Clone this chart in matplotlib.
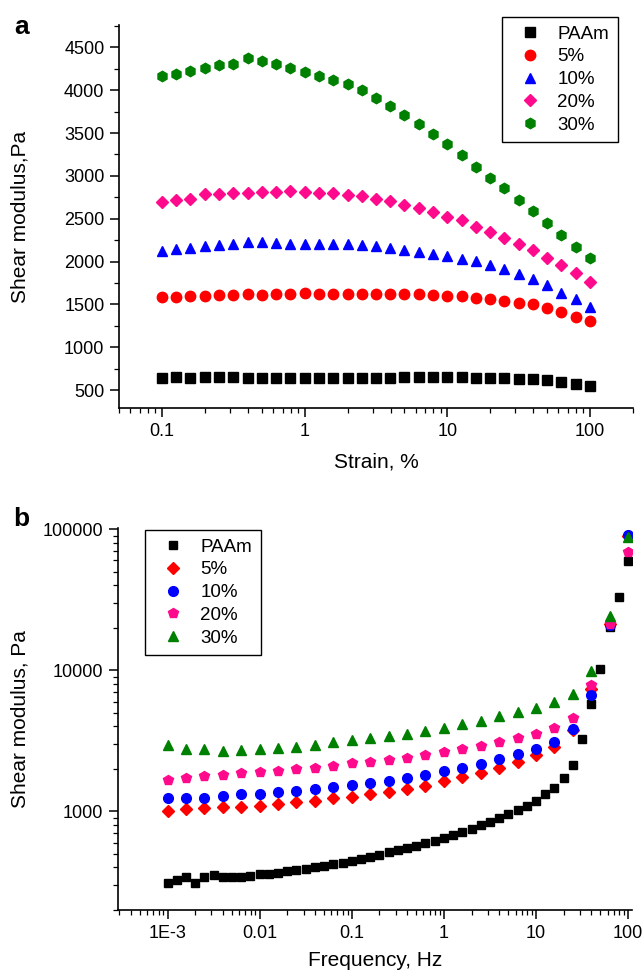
import matplotlib
matplotlib.use("Agg")
import matplotlib.pyplot as plt
from matplotlib.ticker import LogLocator, MultipleLocator, FixedLocator, FixedFormatter, NullFormatter

plt.rcParams['font.family'] = ['Liberation Sans', 'DejaVu Sans']

# (a) strain sweep
strain = [0.1, 0.126, 0.158, 0.2, 0.251, 0.316, 0.398, 0.501, 0.631, 0.794,
          1, 1.26, 1.58, 2, 2.51, 3.16, 3.98, 5.01, 6.31, 7.94,
          10, 12.6, 15.8, 20, 25.1, 31.6, 39.8, 50.1, 63.1, 79.4, 100]
a_paam = [640, 652, 640, 652, 652, 652, 640, 640, 640, 640,
          640, 640, 640, 640, 640, 640, 640, 652, 652, 652,
          652, 652, 640, 640, 640, 628, 628, 617, 593, 574, 547]
a_5 = [1583, 1583, 1598, 1598, 1606, 1606, 1618, 1606, 1618, 1621,
       1629, 1618, 1618, 1618, 1618, 1618, 1618, 1618, 1618, 1606,
       1598, 1598, 1579, 1567, 1544, 1512, 1501, 1462, 1411, 1357, 1310]
a_10 = [2124, 2143, 2163, 2186, 2194, 2206, 2233, 2233, 2221, 2209,
        2209, 2202, 2202, 2202, 2194, 2182, 2159, 2132, 2112, 2085,
        2061, 2034, 2003, 1960, 1914, 1851, 1793, 1727, 1637, 1559, 1474]
a_20 = [2692, 2720, 2731, 2794, 2794, 2805, 2805, 2813, 2813, 2821,
        2809, 2801, 2797, 2782, 2762, 2731, 2708, 2665, 2630, 2579,
        2525, 2482, 2408, 2342, 2280, 2202, 2132, 2038, 1956, 1871, 1766]
a_30 = [4168, 4188, 4223, 4262, 4289, 4301, 4371, 4343, 4301, 4262,
        4211, 4164, 4121, 4071, 4005, 3911, 3810, 3709, 3600, 3491,
        3370, 3241, 3109, 2977, 2860, 2720, 2587, 2447, 2307, 2167, 2038]

# (b) frequency sweep
freq_paam = [0.001, 0.00126, 0.00158, 0.002, 0.00251, 0.00316, 0.00398, 0.00501, 0.00631, 0.00794,
             0.01, 0.0126, 0.0158, 0.02, 0.0251, 0.0316, 0.0398, 0.0501, 0.0631, 0.0794,
             0.1, 0.126, 0.158, 0.2, 0.251, 0.316, 0.398, 0.501, 0.631, 0.794,
             1, 1.26, 1.58, 2, 2.51, 3.16, 3.98, 5.01, 6.31, 7.94,
             10, 12.6, 15.8, 20, 25.1, 31.6, 39.8, 50.1, 63.1, 79.4, 100]
b_paam = [312, 326, 342, 312, 340, 353, 340, 342, 342, 351,
          357, 357, 367, 379, 381, 390, 403, 409, 423, 432,
          447, 459, 474, 490, 512, 528, 549, 567, 596, 619,
          647, 680, 713, 749, 796, 845, 896, 952, 1016, 1096,
          1178, 1321, 1473, 1715, 2134, 3245, 5809, 10215, 20400, 33100, 59300]
freq = [0.001, 0.00158, 0.00251, 0.00398, 0.00631, 0.01, 0.0158, 0.0251, 0.0398, 0.0631,
        0.1, 0.158, 0.251, 0.398, 0.631, 1, 1.58, 2.51, 3.98, 6.31,
        10, 15.8, 25.1, 39.8, 63.1, 100]
b_5 = [1011, 1038, 1062, 1080, 1080, 1097, 1127, 1158, 1191, 1236,
       1271, 1320, 1380, 1449, 1521, 1633, 1743, 1870, 2042, 2250,
       2490, 2870, 3760, 7420, 21400, 89000]
b_10 = [1243, 1236, 1243, 1277, 1334, 1327, 1370, 1386, 1439, 1487,
        1537, 1580, 1651, 1714, 1799, 1922, 2042, 2180, 2338, 2564,
        2775, 3110, 3805, 6730, 20800, 91200]
b_20 = [1660, 1714, 1779, 1810, 1862, 1900, 1945, 1986, 2042, 2109,
        2201, 2250, 2311, 2404, 2496, 2619, 2754, 2891, 3085, 3331,
        3525, 3910, 4575, 7800, 21400, 68400]
b_30 = [2940, 2767, 2754, 2693, 2710, 2754, 2800, 2877, 2953, 3085,
        3190, 3295, 3420, 3530, 3715, 3900, 4162, 4395, 4777, 5060,
        5445, 5970, 6760, 9840, 24200, 87700]

labels = ['PAAm', '5%', '10%', '20%', '30%']
pink = '#ff0a8c'
green = '#008000'

fig = plt.figure(figsize=(6.44, 9.75), dpi=100)
ax1 = fig.add_axes([0.1848, 0.5815, 0.798, 0.3928])
ax2 = fig.add_axes([0.1832, 0.0667, 0.798, 0.3918])


def style_axes(ax):
    for s in ('top', 'right'):
        ax.spines[s].set_visible(False)
    for s in ('left', 'bottom'):
        ax.spines[s].set_linewidth(1.2)
    ax.tick_params(which='major', direction='out', length=6.5, width=1.1, labelsize=13, pad=4)
    ax.tick_params(which='minor', direction='out', length=3.5, width=0.9)


def add_legend(ax, x_px, y_px):
    leg = ax.legend(loc='upper left', bbox_to_anchor=(x_px / 644, 1 - y_px / 975),
                    bbox_transform=fig.transFigure, borderaxespad=0, fontsize=13.5,
                    frameon=True, fancybox=False, edgecolor='black', framealpha=1,
                    handletextpad=0.4, labelspacing=0.3, borderpad=0.45, handlelength=2.1)
    leg.get_frame().set_linewidth(1.0)
    return leg


# panel a
ms = 7.5
ax1.plot(strain, a_paam, ls='none', marker='s', ms=6.5, color='black', label=labels[0])
ax1.plot(strain, a_5, ls='none', marker='o', ms=ms, color='red', label=labels[1])
ax1.plot(strain, a_10, ls='none', marker='^', ms=ms, color='blue', label=labels[2])
ax1.plot(strain, a_20, ls='none', marker='D', ms=6.5, color=pink, label=labels[3])
ax1.plot(strain, a_30, ls='none', marker='h', ms=ms, color=green, label=labels[4])
ax1.set_xscale('log')
ax1.set_xlim(0.05, 200)
ax1.set_ylim(290, 4760)
ax1.yaxis.set_major_locator(MultipleLocator(500))
ax1.yaxis.set_minor_locator(MultipleLocator(250))
ax1.xaxis.set_major_locator(FixedLocator([0.1, 1, 10, 100]))
ax1.xaxis.set_major_formatter(FixedFormatter(['0.1', '1', '10', '100']))
ax1.xaxis.set_minor_locator(LogLocator(base=10, subs=range(2, 10)))
ax1.xaxis.set_minor_formatter(NullFormatter())
style_axes(ax1)
ax1.set_xlabel('Strain, %', fontsize=15, labelpad=9)
ax1.set_ylabel('Shear modulus,Pa', fontsize=15)
ax1.yaxis.set_label_coords(-0.175, 0.5)
add_legend(ax1, 502, 17)

# panel b
ax2.plot(freq_paam, b_paam, ls='none', marker='s', ms=6, color='black', label=labels[0])
ax2.plot(freq, b_5, ls='none', marker='D', ms=6, color='red', label=labels[1])
ax2.plot(freq, b_10, ls='none', marker='o', ms=7, color='blue', label=labels[2])
ax2.plot(freq, b_20, ls='none', marker='p', ms=7.5, color=pink, label=labels[3])
ax2.plot(freq, b_30, ls='none', marker='^', ms=7, color=green, label=labels[4])
ax2.set_xscale('log')
ax2.set_yscale('log')
ax2.set_xlim(2.9e-4, 110)
ax2.set_ylim(200, 1.02e5)
ax2.xaxis.set_major_locator(FixedLocator([1e-3, 1e-2, 0.1, 1, 10, 100]))
ax2.xaxis.set_major_formatter(FixedFormatter(['1E-3', '0.01', '0.1', '1', '10', '100']))
ax2.xaxis.set_minor_locator(LogLocator(base=10, subs=range(2, 10), numticks=20))
ax2.xaxis.set_minor_formatter(NullFormatter())
ax2.yaxis.set_major_locator(FixedLocator([1000, 10000, 100000]))
ax2.yaxis.set_major_formatter(FixedFormatter(['1000', '10000', '100000']))
ax2.yaxis.set_minor_locator(LogLocator(base=10, subs=range(2, 10), numticks=20))
ax2.yaxis.set_minor_formatter(NullFormatter())
style_axes(ax2)
ax2.set_xlabel('Frequency, Hz', fontsize=15, labelpad=7)
ax2.set_ylabel('Shear modulus, Pa', fontsize=15)
ax2.yaxis.set_label_coords(-0.173, 0.5)
add_legend(ax2, 145, 530)

fig.text(22 / 644, 1 - 27 / 975, 'a', fontsize=19, fontweight='bold', ha='center', va='center')
fig.text(21 / 644, 1 - 519 / 975, 'b', fontsize=19, fontweight='bold', ha='center', va='center')

fig.savefig('out.png', dpi=100)
